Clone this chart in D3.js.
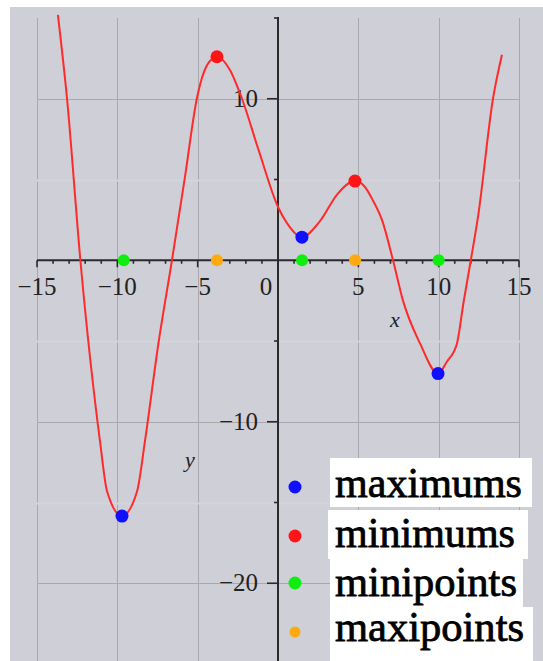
<!DOCTYPE html>
<html>
<head>
<meta charset="utf-8">
<script src="https://cdn.jsdelivr.net/npm/d3@7"></script>
<style>
html,body{margin:0;padding:0;background:#fff;}
svg{display:block;}
</style>
</head>
<body>
<svg id="chart" width="543" height="661"></svg>
<script>
// ---- data ----
const curveX = [-13.7, -13.13, -12.3, -11.08, -10.64, -9.71, -8.77, -8.28, -7.45, -6.6, -5.8, -5.04, -4.4, -3.8, -3.0, -2.24, -1.2, 0.0, 0.56, 1.49, 2.6, 3.7, 4.79, 5.4, 5.91, 6.47, 7.16, 7.78, 8.84, 9.96, 10.5, 11.14, 11.55, 12.0, 12.45, 13.38, 13.94];
const curveY = [15.2, 10.0, 0.0, -11.2, -14.3, -15.84, -14.3, -11.2, -5.2, 0.0, 5.1, 10.06, 12.1, 12.6, 11.8, 10.0, 6.8, 3.3, 2.3, 1.43, 2.4, 4.1, 4.9, 4.55, 3.7, 2.5, 0.0, -2.5, -5.15, -7.02, -6.3, -5.15, -2.6, 0.0, 2.7, 10.0, 12.73];
const maximumsX = [-9.71, 1.49, 9.96];
const maximumsY = [-15.84, 1.43, -7.02];
const minimumsX = [-3.8, 4.79];
const minimumsY = [12.6, 4.9];
const minipointsX = [-9.6, 1.5, 10.0];
const maxipointsX = [-3.8, 4.8];
const legendNames = ["maximums", "minimums", "minipoints", "maxipoints"];
const legendColors = ["#1010ff", "#ff1515", "#10ee10", "#ffaa10"];
const xTickValues = [-15, -10, -5, 0, 5, 10, 15];
const xTickLabels = ["\u221215", "\u221210", "\u22125", "0", "5", "10", "15"];
const yTickValues = [10, -10, -20];
const yTickLabels = ["10", "\u221210", "\u221220"];

// ---- layout ----
const svg = d3.select("#chart");
const x = d3.scaleLinear().domain([-15, 15]).range([37, 519]);
const y = d3.scaleLinear().domain([15, -25]).range([18, 664]);

svg.append("rect").attr("x", 10).attr("y", 7).attr("width", 533).attr("height", 654).attr("fill", "#cecfd7");

// vertical gridlines
svg.append("g").selectAll("line").data([-15, -10, -5, 5, 10, 15]).join("line")
  .attr("x1", d => Math.round(x(d)) + 0.5).attr("x2", d => Math.round(x(d)) + 0.5)
  .attr("y1", y(15)).attr("y2", 661)
  .attr("stroke", "#a9a9ab").attr("stroke-width", 1);
// faint breaks at odd multiples of 5
svg.append("g").selectAll("line").data([5, -5, -15]).join("line")
  .attr("x1", x(-15) - 1).attr("x2", x(15) + 1).attr("y1", d => Math.round(y(d)) + 0.5).attr("y2", d => Math.round(y(d)) + 0.5)
  .attr("stroke", "#d4d4db").attr("stroke-width", 2);
// horizontal gridlines
svg.append("g").selectAll("line").data([10, -10, -20]).join("line")
  .attr("x1", x(-15)).attr("x2", x(15)).attr("y1", d => Math.round(y(d)) + 0.5).attr("y2", d => Math.round(y(d)) + 0.5)
  .attr("stroke", "#a9a9ab").attr("stroke-width", 1);

const axisColor = "#2a2a2a";
// x axis
svg.append("line").attr("x1", x(-15)).attr("x2", x(15)).attr("y1", y(0)).attr("y2", y(0))
  .attr("stroke", axisColor).attr("stroke-width", 2);
svg.append("g").selectAll("line").data(d3.range(-15, 16)).join("line")
  .attr("x1", d => x(d)).attr("x2", d => x(d))
  .attr("y1", y(0)).attr("y2", d => y(0) + (d % 5 === 0 ? 7 : 3.5))
  .attr("stroke", axisColor).attr("stroke-width", 1.6);
// y axis
svg.append("line").attr("x1", x(0)).attr("x2", x(0)).attr("y1", y(15) - 1).attr("y2", 661)
  .attr("stroke", axisColor).attr("stroke-width", 2);
svg.append("g").selectAll("line").data([15, 10, 5, -5, -10, -15, -20]).join("line")
  .attr("x1", x(0)).attr("x2", d => x(0) - (d % 10 === 0 ? 11 : 4))
  .attr("y1", d => y(d)).attr("y2", d => y(d))
  .attr("stroke", axisColor).attr("stroke-width", 1.6);

const labelFont = "'Liberation Serif', 'Times New Roman', serif";
svg.append("g").selectAll("text").data(xTickValues).join("text")
  .attr("x", d => x(d) + (d === 0 ? -12 : 0)).attr("y", y(0) + 35)
  .attr("text-anchor", "middle")
  .attr("font-family", labelFont).attr("font-size", 25).attr("fill", "#222")
  .text((d, i) => xTickLabels[i]);
svg.append("g").selectAll("text").data(yTickValues).join("text")
  .attr("x", x(0) - 20).attr("y", d => y(d) + 8)
  .attr("text-anchor", "end")
  .attr("font-family", labelFont).attr("font-size", 25).attr("fill", "#222")
  .text((d, i) => yTickLabels[i]);

svg.append("text").attr("x", 395).attr("y", 327).attr("text-anchor", "middle")
  .attr("font-family", labelFont).attr("font-style", "italic").attr("font-size", 22).attr("fill", "#222").text("x");
svg.append("text").attr("x", 190).attr("y", 467).attr("text-anchor", "middle")
  .attr("font-family", labelFont).attr("font-style", "italic").attr("font-size", 22).attr("fill", "#222").text("y");

// curve
const pts = curveX.map((d, i) => [d, curveY[i]]);
svg.append("path").datum(pts)
  .attr("d", d3.line().x(d => x(d[0])).y(d => y(d[1])).curve(d3.curveMonotoneX))
  .attr("fill", "none").attr("stroke", "#ff2a2a").attr("stroke-width", 2);

// points
function dots(xs, ys, color, r) {
  svg.append("g").selectAll("circle").data(xs).join("circle")
    .attr("cx", d => x(d)).attr("cy", (d, i) => y(ys[i])).attr("r", r).attr("fill", color);
}
dots(minipointsX, minipointsX.map(() => 0), legendColors[2], 6);
dots(maxipointsX, maxipointsX.map(() => 0), legendColors[3], 6);
dots(maximumsX, maximumsY, legendColors[0], 6.5);
dots(minimumsX, minimumsY, legendColors[1], 6.5);

// legend
const boxes = [[330, 458, 202, 49], [328, 510, 200, 49], [330, 559, 193, 49], [330, 607, 203, 54]];
const baselines = [497, 547, 596, 641];
const dotY = [487, 536, 583, 632];
const textW = [187, 180, 182, 189];
const lg = svg.append("g");
lg.selectAll("rect").data(legendNames).join("rect")
  .attr("x", (d, i) => boxes[i][0]).attr("y", (d, i) => boxes[i][1])
  .attr("width", (d, i) => boxes[i][2]).attr("height", (d, i) => boxes[i][3])
  .attr("fill", "#fff");
lg.selectAll("circle").data(legendNames).join("circle")
  .attr("cx", 295).attr("cy", (d, i) => dotY[i]).attr("r", (d, i) => i === 3 ? 5.5 : 6.5)
  .attr("fill", (d, i) => legendColors[i]);
lg.selectAll("text").data(legendNames).join("text")
  .attr("x", 335).attr("y", (d, i) => baselines[i])
  .attr("font-family", "'Liberation Serif', serif").attr("font-size", 42)
  .attr("textLength", (d, i) => textW[i]).attr("lengthAdjust", "spacingAndGlyphs")
  .attr("fill", "#000").attr("stroke", "#000").attr("stroke-width", 0.8)
  .text(d => d);
</script>
</body>
</html>
